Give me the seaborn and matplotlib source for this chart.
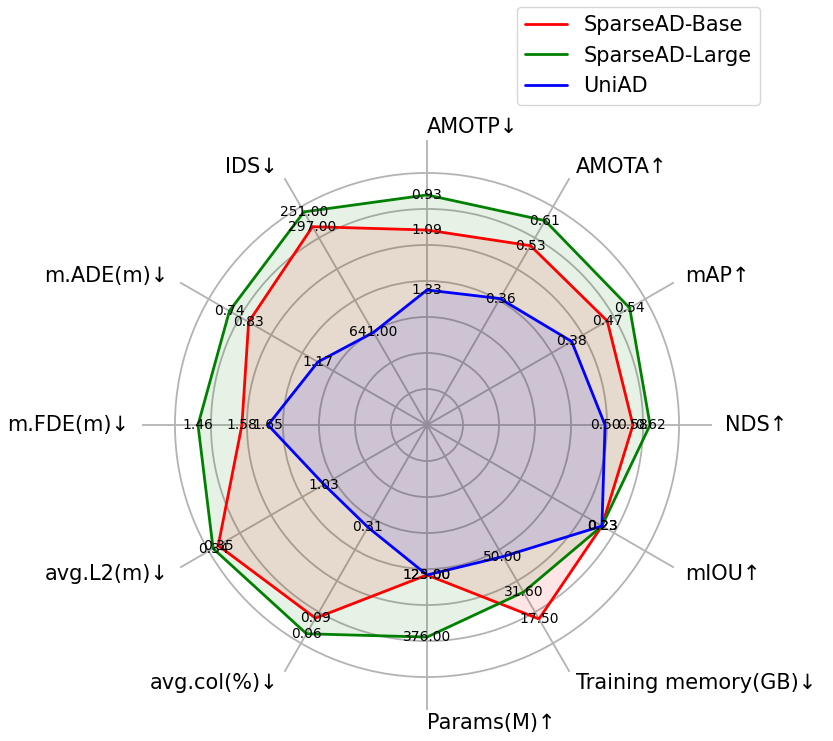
import numpy as np
import pandas as pd
import matplotlib
matplotlib.use("Agg")
import matplotlib.pyplot as plt
import seaborn as sns

# ── DATA ─────────────────────────────────────────────────────────
categories = [
    "AMOTP↓", "AMOTA↑", "mAP↑", "NDS↑", "mIOU↑", "Training memory(GB)↓",
    "Params(M)↑", "avg.col(%)↓", "avg.L2(m)↓", "m.FDE(m)↓", "m.ADE(m)↓", "IDS↓",
]
models = ["SparseAD-Base", "SparseAD-Large", "UniAD"]

# raw values printed next to each point
base_vals = [1.09, 0.53, 0.47, 0.58, 0.23, 17.50, 125.00, 0.09, 0.35, 1.58, 0.83, 297.00]
large_vals = [0.93, 0.61, 0.54, 0.62, 0.23, 31.60, 376.00, 0.06, 0.34, 1.46, 0.74, 251.00]
uniad_vals = [1.33, 0.36, 0.38, 0.50, 0.23, 50.00, 123.00, 0.31, 1.03, 1.65, 1.17, 641.00]

# normalised scores (radius on the chart)
base_score = [1.083, 1.150, 1.156, 1.144, 1.122, 1.244, 0.833, 1.239, 1.339, 1.028, 1.144, 1.272]
large_score = [1.278, 1.311, 1.300, 1.239, 1.122, 1.072, 1.178, 1.339, 1.372, 1.272, 1.267, 1.367]
uniad_score = [0.750, 0.811, 0.928, 0.989, 1.122, 0.844, 0.833, 0.656, 0.661, 0.883, 0.700, 0.594]

colors = {"SparseAD-Base": "red", "SparseAD-Large": "green", "UniAD": "blue"}
values = {"SparseAD-Base": base_vals, "SparseAD-Large": large_vals, "UniAD": uniad_vals}
scores = {"SparseAD-Base": base_score, "SparseAD-Large": large_score, "UniAD": uniad_score}

# ── LAYOUT ───────────────────────────────────────────────────────
sns.set_style("white")
plt.rcParams["font.family"] = ["DejaVu Sans"]
plt.rcParams["text.color"] = "black"
plt.rcParams["axes.labelcolor"] = "black"

n = len(categories)
angles = np.linspace(0, 2 * np.pi, n, endpoint=False)

fig = plt.figure(figsize=(8.33, 7.41), dpi=100)
ax = fig.add_axes([142 / 833, 31 / 741, 570 / 833, 570 / 741], projection="polar")
ax.set_theta_offset(np.pi / 2)
ax.set_theta_direction(-1)

for m in models:
    ang = np.append(angles, angles[0])
    sc = np.append(scores[m], scores[m][0])
    df = pd.DataFrame({"theta": ang, "r": sc})
    sns.lineplot(data=df, x="theta", y="r", sort=False, estimator=None,
                 color=colors[m], linewidth=2, ax=ax, label=m)
    ax.fill(ang, sc, color=colors[m], alpha=0.1)
    for a, r, v in zip(angles, scores[m], values[m]):
        ax.text(a, r, f"{v:.2f}", ha="center", va="center", fontsize=10,
                color="black", zorder=5)

ax.set_ylim(0, 1.583)
ax.set_yticks([0.2, 0.4, 0.6, 0.8, 1.0, 1.2, 1.4])
ax.set_yticklabels([])
ax.set_xticks(angles)
ax.set_xticklabels([])
ax.set_xlabel("")
ax.set_ylabel("")
ax.grid(True, color="#b3b3b3", linewidth=1.3)
ax.spines["polar"].set_visible(False)

# axis names outside the circle: left-aligned on the right half (incl. top/bottom)
for a, name in zip(angles, categories):
    ha = "left" if np.sin(a) > -1e-6 or abs(a - np.pi) < 1e-6 else "right"
    if abs(a - np.pi) < 1e-6:
        ha = "left"
    ax.text(a, 1.656, name, ha=ha, va="center", fontsize=15, color="black")

ax.legend_.remove()
handles, labels = ax.get_legend_handles_labels()
leg = fig.legend(handles, labels, loc="upper right", bbox_to_anchor=(760 / 833, 1 - 7 / 741),
                 bbox_transform=fig.transFigure, borderaxespad=0, fontsize=15)
for t in leg.get_texts():
    t.set_color("black")

plt.savefig("out.png", dpi=100)
